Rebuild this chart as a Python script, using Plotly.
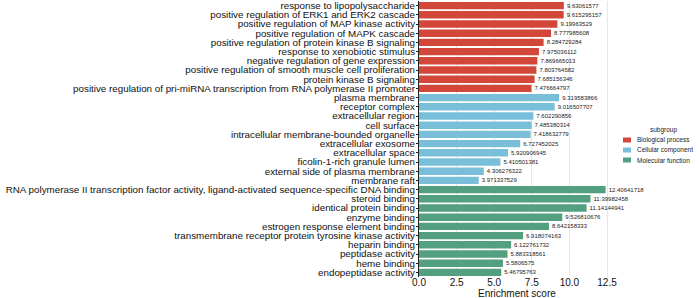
import plotly.graph_objects as go

bio_terms = [
    "response to lipopolysaccharide",
    "positive regulation of ERK1 and ERK2 cascade",
    "positive regulation of MAP kinase activity",
    "positive regulation of MAPK cascade",
    "positive regulation of protein kinase B signaling",
    "response to xenobiotic stimulus",
    "negative regulation of gene expression",
    "positive regulation of smooth muscle cell proliferation",
    "protein kinase B signaling",
    "positive regulation of pri-miRNA transcription from RNA polymerase II promoter",
]
bio_scores = [9.63061577, 9.615295157, 9.19963529, 8.777985608, 8.284729284,
              7.975036112, 7.869665013, 7.803764582, 7.685156346, 7.476664797]

cell_terms = [
    "plasma membrane",
    "receptor complex",
    "extracellular region",
    "cell surface",
    "intracellular membrane-bounded organelle",
    "extracellular exosome",
    "extracellular space",
    "ficolin-1-rich granule lumen",
    "external side of plasma membrane",
    "membrane raft",
]
cell_scores = [9.319583866, 9.016507707, 7.602290856, 7.485380314, 7.418632779,
               6.727452025, 5.920906945, 5.410501381, 4.306276322, 3.971337529]

mol_terms = [
    "RNA polymerase II transcription factor activity, ligand-activated sequence-specific DNA binding",
    "steroid binding",
    "identical protein binding",
    "enzyme binding",
    "estrogen response element binding",
    "transmembrane receptor protein tyrosine kinase activity",
    "heparin binding",
    "peptidase activity",
    "heme binding",
    "endopeptidase activity",
]
mol_scores = [12.40641718, 11.39982458, 11.14144941, 9.526810676, 8.642158333,
              6.918074163, 6.122761732, 5.883318561, 5.5806575, 5.46795763]

groups = ["Biological process", "Cellular component", "Molecular function"]
colors = ["#D2473A", "#7ABFDA", "#52A080"]
x_ticks = [0.0, 2.5, 5.0, 7.5, 10.0, 12.5]

FONT = "Liberation Sans, Arial, sans-serif"
W, H = 699, 298
ML, MR, MT, MB = 419, 84, 1, 21
PW, PH = W - ML - MR, H - MT - MB


def px2x(px):
    return (px - ML) / PW


def px2y(py):
    return (H - MB - py) / PH


fig = go.Figure()
all_terms = bio_terms + cell_terms + mol_terms
for name, terms, scores, col in zip(groups, [bio_terms, cell_terms, mol_terms],
                                    [bio_scores, cell_scores, mol_scores], colors):
    fig.add_trace(go.Bar(
        name=name, orientation="h", x=scores, y=terms, showlegend=False,
        marker=dict(color=col, line=dict(width=0)),
        text=[repr(v) for v in scores], textposition="outside",
        textfont=dict(size=6, color="#222222", family=FONT),
        constraintext="none", cliponaxis=False, hoverinfo="skip",
    ))

# compact legend
annotations = [dict(
    text="subgroup", xref="paper", yref="paper", x=px2x(663), y=px2y(130),
    xanchor="center", yanchor="middle", showarrow=False,
    font=dict(size=6.5, color="#222222", family=FONT),
)]
shapes = []
for i, (name, col) in enumerate(zip(groups, colors)):
    cy = 140 + 10 * i
    shapes.append(dict(type="rect", xref="paper", yref="paper",
                       x0=px2x(623), x1=px2x(631), y0=px2y(cy - 2.5), y1=px2y(cy + 2.5),
                       fillcolor=col, line=dict(width=0)))
    annotations.append(dict(
        text=name, xref="paper", yref="paper", x=px2x(635), y=px2y(cy),
        xanchor="left", yanchor="middle", showarrow=False,
        font=dict(size=6.5, color="#222222", family=FONT),
    ))

annotations.append(dict(
    text="Enrichment score", xref="paper", yref="paper", x=0.5, y=px2y(293),
    xanchor="center", yanchor="middle", showarrow=False,
    font=dict(size=10, color="#111111", family=FONT),
))

fig.update_layout(
    width=W, height=H,
    margin=dict(l=ML, r=MR, t=MT, b=MB, autoexpand=False),
    paper_bgcolor="white", plot_bgcolor="white",
    barmode="relative", bargap=0.2, showlegend=False,
    font=dict(family=FONT, color="#111111", size=10),
    annotations=annotations, shapes=shapes,
    xaxis=dict(
        range=[0, 13.03], tickvals=x_ticks, ticktext=[f"{t:.1f}" for t in x_ticks],
        showgrid=True, gridcolor="#E6E6E6", gridwidth=1, zeroline=False,
        showline=False, ticks="", ticklen=0, ticklabelstandoff=-2,
        tickfont=dict(size=10, color="#111111"),
        automargin=False, fixedrange=True,
    ),
    yaxis=dict(
        tickmode="array", tickvals=all_terms, ticktext=all_terms,
        categoryorder="array", categoryarray=all_terms, autorange="reversed",
        showgrid=False, zeroline=False, showline=True, linecolor="#222222", linewidth=1,
        ticks="outside", ticklen=2, tickcolor="#222222", ticklabelstandoff=-1,
        tickfont=dict(size=9.8, color="#111111"), automargin=False, fixedrange=True,
    ),
)

fig.write_html(
    "out.html",
    config={"displayModeBar": False, "staticPlot": True},
    post_script="document.body.style.margin='0px';document.body.style.overflow='hidden';",
)
